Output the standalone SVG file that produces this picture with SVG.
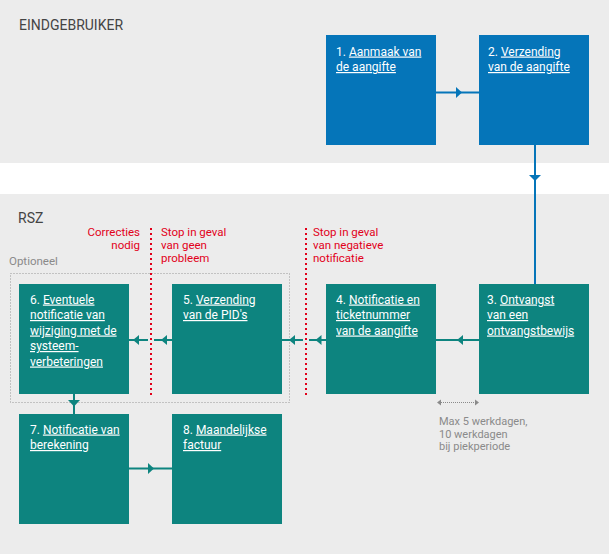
<svg xmlns="http://www.w3.org/2000/svg" width="609" height="554" viewBox="0 0 609 554">
<style>
.band{fill:#ececec}
.blue{fill:#0575b9}
.teal{fill:#0d847f}
.bt{font-family:Roboto,"Liberation Sans",sans-serif;font-size:12px;fill:#ffffff}
.u{text-decoration:underline}
.hdr{font-family:Roboto,"Liberation Sans",sans-serif;font-size:14px;fill:#444444}
.red{font-family:Roboto,"Liberation Sans",sans-serif;font-size:11.5px;fill:#e2001a}
.gray{font-family:Roboto,"Liberation Sans",sans-serif;font-size:11.5px;fill:#8a8a8a}
.gs{font-family:Roboto,"Liberation Sans",sans-serif;font-size:11px;fill:#8a8a8a}
.lb{stroke:#0575b9;stroke-width:2;fill:none}
.lt{stroke:#0d847f;stroke-width:2;fill:none}
.rd{stroke:#e2001a;stroke-width:2;stroke-dasharray:2 3;fill:none}
</style>
<rect class="band" x="0" y="0" width="609" height="163"/>
<rect fill="#ffffff" x="0" y="163" width="609" height="31"/>
<rect class="band" x="0" y="194" width="609" height="360"/>
<text class="hdr" x="19" y="30">EINDGEBRUIKER</text>
<text class="hdr" x="18" y="223">RSZ</text>
<text class="gray" x="9" y="265">Optioneel</text>
<rect x="10.5" y="273.5" width="279" height="129" fill="none" stroke="#999999" stroke-width="1" stroke-dasharray="1 2"/>
<g id="labels">
<text class="red" text-anchor="end" x="140" y="236">Correcties<tspan x="140" dy="13">nodig</tspan></text>
<text class="red" x="161" y="236">Stop in geval<tspan x="161" dy="13">van geen</tspan><tspan x="161" dy="13">probleem</tspan></text>
<text class="red" x="313" y="236">Stop in geval<tspan x="313" dy="13">van negatieve</tspan><tspan x="313" dy="13">notificatie</tspan></text>
<text class="gs" x="439" y="425">Max 5 werkdagen,</text>
<text class="gs" x="439" y="437.5">10 werkdagen</text>
<text class="gs" x="439" y="450">bij piekperiode</text>
</g>
<g id="connectors">
<line class="lb" x1="436" y1="92.5" x2="479" y2="92.5"/>
<polygon class="blue" points="456,87 462,92.5 456,98"/>
<line class="lb" x1="535" y1="145" x2="535" y2="284"/>
<polygon class="blue" points="529,175 541,175 535,181"/>
<line class="lt" x1="436" y1="340" x2="479" y2="340"/>
<polygon class="teal" points="463,335 457,340 463,345"/>
<line class="lt" x1="309" y1="340" x2="326" y2="340"/>
<polygon class="teal" points="321.5,335 315.5,340 321.5,345"/>
<line class="lt" x1="282" y1="340" x2="303" y2="340"/>
<polygon class="teal" points="295,335 289,340 295,345"/>
<line class="lt" x1="154" y1="340" x2="172" y2="340"/>
<polygon class="teal" points="167,335 161,340 167,345"/>
<line class="lt" x1="129" y1="340" x2="148" y2="340"/>
<polygon class="teal" points="139,335 133,340 139,345"/>
<line class="lt" x1="74" y1="394" x2="74" y2="414"/>
<polygon class="teal" points="68,400 80,400 74,406.5"/>
<line class="lt" x1="129" y1="468.5" x2="172" y2="468.5"/>
<polygon class="teal" points="148,463 154,468.5 148,474"/>
<line class="rd" x1="151" y1="228" x2="151" y2="396"/>
<line class="rd" x1="306" y1="228" x2="306" y2="396"/>
<line x1="441" y1="402.5" x2="475" y2="402.5" stroke="#8a8a8a" stroke-width="1" stroke-dasharray="1 1"/>
<polygon fill="#8a8a8a" points="441,399.5 437,402.5 441,405.5"/>
<polygon fill="#8a8a8a" points="475,399.5 479,402.5 475,405.5"/>
</g>
<g id="n1">
<rect class="blue" x="326" y="35" width="110" height="110"/>
<text class="bt" x="336" y="55.5">1. <tspan class="u">Aanmaak van</tspan><tspan x="336" dy="15.5" class="u">de aangifte</tspan></text>
</g>
<g id="n2">
<rect class="blue" x="479" y="35" width="110" height="110"/>
<text class="bt" x="488" y="55.5">2. <tspan class="u">Verzending</tspan><tspan x="488" dy="15.5" class="u">van de aangifte</tspan></text>
</g>
<g id="n3">
<rect class="teal" x="479" y="284" width="110" height="110"/>
<text class="bt" x="487" y="303.5">3. <tspan class="u">Ontvangst</tspan><tspan x="487" dy="15.5" class="u">van een</tspan><tspan x="487" dy="15.5" class="u">ontvangstbewijs</tspan></text>
</g>
<g id="n4">
<rect class="teal" x="326" y="284" width="110" height="110"/>
<text class="bt" x="336" y="303.5">4. <tspan class="u">Notificatie en</tspan><tspan x="336" dy="15.5" class="u">ticketnummer</tspan><tspan x="336" dy="15.5" class="u">van de aangifte</tspan></text>
</g>
<g id="n5">
<rect class="teal" x="172" y="284" width="110" height="110"/>
<text class="bt" x="183" y="303.5">5. <tspan class="u">Verzending</tspan><tspan x="183" dy="15.5" class="u">van de PID's</tspan></text>
</g>
<g id="n6">
<rect class="teal" x="19" y="284" width="110" height="110"/>
<text class="bt" x="30" y="303.5">6. <tspan class="u">Eventuele</tspan><tspan x="30" dy="15.5" class="u">notificatie van</tspan><tspan x="30" dy="15.5" class="u">wijziging met de</tspan><tspan x="30" dy="15.5" class="u">systeem-</tspan><tspan x="30" dy="15.5" class="u">verbeteringen</tspan></text>
</g>
<g id="n7">
<rect class="teal" x="19" y="414" width="110" height="110"/>
<text class="bt" x="30" y="433.5">7. <tspan class="u">Notificatie van</tspan><tspan x="30" dy="15.5" class="u">berekening</tspan></text>
</g>
<g id="n8">
<rect class="teal" x="172" y="414" width="110" height="110"/>
<text class="bt" x="183" y="433.5">8. <tspan class="u">Maandelijkse</tspan><tspan x="183" dy="15.5" class="u">factuur</tspan></text>
</g>
</svg>
